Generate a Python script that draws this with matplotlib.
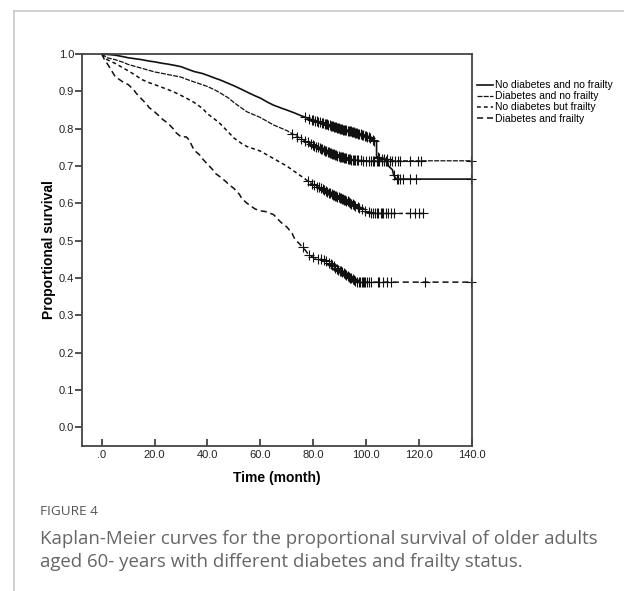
import numpy as np
import matplotlib.pyplot as plt
from matplotlib.lines import Line2D

# Kaplan-Meier curves (time in months, survival)
t1 = [0, 2, 5, 8, 10, 13, 15, 18, 20, 23, 25, 28, 30, 33, 35, 38, 40, 43, 45, 48, 50, 53, 55, 58, 60, 63, 65,
      68, 70, 73, 75, 78, 80, 83, 85, 88, 90, 93, 95, 98, 100, 101.5, 102.5, 104, 104, 106, 108, 108.5, 110,
      110.5, 111.5]
s1 = [1.0, 0.999, 0.997, 0.993, 0.99, 0.987, 0.985, 0.981, 0.979, 0.975, 0.973, 0.969, 0.966, 0.958, 0.953,
      0.948, 0.943, 0.935, 0.93, 0.921, 0.915, 0.905, 0.898, 0.888, 0.882, 0.87, 0.863, 0.855, 0.85, 0.842,
      0.836, 0.828, 0.823, 0.817, 0.812, 0.805, 0.80, 0.795, 0.791, 0.785, 0.78, 0.775, 0.77, 0.765, 0.725,
      0.72, 0.718, 0.70, 0.69, 0.675, 0.665]
t2 = [0, 2, 5, 8, 10, 13, 15, 18, 20, 23, 25, 28, 30, 33, 35, 38, 40, 43, 45, 48, 50, 53, 55, 58, 60, 63, 65,
      68, 70, 73, 75, 78, 80, 83, 85, 88, 90, 93, 95, 98, 100]
s2 = [1.0, 0.99, 0.985, 0.978, 0.972, 0.966, 0.962, 0.956, 0.952, 0.948, 0.945, 0.941, 0.938, 0.93, 0.925,
      0.918, 0.913, 0.903, 0.895, 0.882, 0.87, 0.855, 0.845, 0.836, 0.83, 0.818, 0.81, 0.801, 0.795, 0.783,
      0.775, 0.763, 0.756, 0.746, 0.74, 0.731, 0.725, 0.72, 0.716, 0.715, 0.714]
t3 = [0, 1, 2, 5, 8, 10, 13, 15, 18, 20, 23, 25, 28, 30, 33, 35, 38, 40, 43, 45, 48, 50, 53, 55, 58, 60, 63,
      65, 68, 70, 73, 75, 78, 80, 83, 85, 88, 90, 93, 95, 97, 98, 100, 103]
s3 = [1.0, 0.99, 0.985, 0.975, 0.963, 0.955, 0.942, 0.932, 0.923, 0.918, 0.91, 0.905, 0.896, 0.889, 0.878,
      0.87, 0.855, 0.84, 0.824, 0.812, 0.79, 0.775, 0.76, 0.752, 0.745, 0.74, 0.728, 0.72, 0.708, 0.70, 0.685,
      0.675, 0.66, 0.65, 0.64, 0.632, 0.622, 0.615, 0.605, 0.597, 0.59, 0.587, 0.578, 0.573]
t4 = [0, 1, 2, 4, 5, 7, 8, 10, 12, 13, 15, 17, 18, 20, 22, 23, 25, 27, 28, 30, 32, 33, 35, 37, 38, 40, 42, 43,
      45, 47, 48, 50, 52, 53, 55, 57, 58, 60, 62, 63, 65, 67, 68, 70, 72, 73, 75, 77, 78, 80, 82, 83, 85, 87,
      88, 90, 92, 93, 95, 96, 97]
s4 = [1.0, 0.985, 0.975, 0.952, 0.94, 0.93, 0.925, 0.918, 0.905, 0.895, 0.88, 0.865, 0.856, 0.845, 0.832,
      0.825, 0.815, 0.8, 0.79, 0.778, 0.778, 0.77, 0.742, 0.73, 0.72, 0.705, 0.69, 0.68, 0.67, 0.658, 0.651,
      0.64, 0.625, 0.613, 0.6, 0.59, 0.585, 0.58, 0.578, 0.575, 0.57, 0.555, 0.548, 0.537, 0.52, 0.505, 0.49,
      0.475, 0.465, 0.455, 0.452, 0.45, 0.445, 0.435, 0.43, 0.42, 0.41, 0.405, 0.397, 0.392, 0.389]
end_times = [140, 140, 123, 140]

# censored observations (+ marks)
c1 = [77, 78.5, 79.5, 80, 80.8, 81.5, 82, 82.6, 83.2, 83.8, 84.3, 84.8, 85.3, 85.8, 86.2, 86.6, 87, 87.4, 87.8,
      88.2, 88.6, 89, 89.4, 89.8, 90.2, 90.6, 91, 91.4, 91.8, 92.2, 92.6, 93, 93.4, 93.8, 94.2, 94.6, 95, 95.4,
      95.8, 96.2, 96.6, 97, 97.5, 98, 98.5, 99, 99.5, 100, 100.5, 101, 101.5, 102.5, 103, 104.5, 105, 106, 107,
      108, 110.5, 111.8, 112.3, 113, 114, 116.5, 119, 139.8]
c2 = [72, 74, 75.5, 77, 78, 79, 79.8, 80.5, 81.2, 81.8, 82.4, 83, 83.5, 84, 84.5, 85, 85.5, 86, 86.4, 86.8,
      87.2, 87.6, 88, 88.4, 88.8, 89.2, 89.6, 90, 90.4, 90.8, 91.2, 91.6, 92, 92.5, 93, 93.5, 94, 94.5, 95,
      95.5, 96, 96.5, 97, 98, 99, 100, 101, 102, 102.5, 103, 104, 104.5, 105, 106, 107, 107.5, 108, 109, 110,
      111, 112, 113, 116.5, 119.5, 121, 139.8]
c3 = [78, 79.5, 80.5, 81.5, 82.2, 83, 83.6, 84.2, 84.8, 85.4, 86, 86.5, 87, 87.5, 88, 88.4, 88.8, 89.2, 89.6,
      90, 90.4, 90.8, 91.2, 91.6, 92, 92.5, 93, 93.5, 94, 94.5, 95, 95.5, 96, 97, 97.5, 98.5, 99.5, 101, 102,
      102.8, 103.5, 104, 104.5, 105.5, 106, 106.5, 107.5, 108.5, 109.5, 110.5, 116.5, 118.5, 120, 121.5]
c4 = [76, 78.5, 80, 82, 83, 84, 85, 86, 86.6, 87.2, 87.8, 88.4, 89, 89.5, 90, 90.5, 91, 91.5, 92, 92.5, 93,
      93.5, 94, 94.5, 95, 95.5, 96, 96.5, 97.3, 97.8, 98.3, 98.8, 99.3, 99.8, 100.5, 101, 102, 104.5, 105,
      106.5, 108, 109.5, 122.5, 139.8]

labels = ['No diabetes and no frailty', 'Diabetes and no frailty',
          'No diabetes but frailty', 'Diabetes and frailty']
x_ticks = [0, 20, 40, 60, 80, 100, 120, 140]
x_ticklabels = ['.0', '20.0', '40.0', '60.0', '80.0', '100.0', '120.0', '140.0']
y_ticks = [0.0, 0.1, 0.2, 0.3, 0.4, 0.5, 0.6, 0.7, 0.8, 0.9, 1.0]

plt.rcParams['font.family'] = ['Liberation Sans', 'DejaVu Sans']

fig = plt.figure(figsize=(6.24, 5.91), dpi=100)
ax = fig.add_axes([0.1314, 0.2453, 0.6245, 0.6633])

styles = [dict(ls='-', lw=1.2), dict(ls=(0, (4, 1)), lw=0.9),
          dict(ls=(0, (2.5, 2)), lw=1.1), dict(ls=(0, (4, 2.5)), lw=1.1)]

handles = []
for t, s, c, end, st, lab in zip([t1, t2, t3, t4], [s1, s2, s3, s4], [c1, c2, c3, c4],
                                 end_times, styles, labels):
    tt = np.array(t + [end])
    ss = np.array(s + [s[-1]])
    h, = ax.plot(tt, ss, color='#111111', label=lab, clip_on=False, **st)
    handles.append(h)
    ax.plot(c, np.interp(c, tt, ss), '+', color='#111111', ms=6.5, mew=0.8, clip_on=False)

ax.set_xlim(-7.5, 140)
ax.set_ylim(-0.05, 1.0)
ax.set_xticks(x_ticks)
ax.set_xticklabels(x_ticklabels)
ax.set_yticks(y_ticks)
ax.set_yticklabels(['%.1f' % v for v in y_ticks])
ax.tick_params(axis='x', direction='in', length=5, width=1.2, color='#333333', labelsize=8, pad=3,
               labelcolor='#222222')
ax.tick_params(axis='y', direction='out', length=5, width=1.2, color='#333333', labelsize=8, pad=0.5,
               labelcolor='#222222')
for sp in ax.spines.values():
    sp.set_color('#444444')
    sp.set_linewidth(1.3)

ax.set_xlabel('Time (month)', fontsize=10, fontweight='bold', labelpad=8)
ax.set_ylabel('Proportional survival', fontsize=10, fontweight='bold', labelpad=2)

fig.legend(handles=handles, labels=labels, loc='upper left', bbox_to_anchor=(0.757, 0.871),
           frameon=False, fontsize=7.5, handlelength=1.6, handletextpad=0.2, labelspacing=0.1,
           borderaxespad=0)

# outer page frame
fig.add_artist(Line2D([14 / 624, 1.0], [1 - 11 / 591, 1 - 11 / 591], color='#c8c8c8', lw=1.2))
fig.add_artist(Line2D([14 / 624, 14 / 624], [0, 1 - 11 / 591], color='#c8c8c8', lw=1.2))

fig.text(40 / 624, 1 - 515 / 591, 'FIGURE 4', fontsize=9.7, color='#555555', family='Open Sans')
fig.text(40 / 624, 1 - 544 / 591, 'Kaplan-Meier curves for the proportional survival of older adults',
         fontsize=13.4, color='#666666', family='Open Sans')
fig.text(40 / 624, 1 - 567 / 591, 'aged 60- years with different diabetes and frailty status.',
         fontsize=13.4, color='#666666', family='Open Sans')

plt.savefig('out.png', dpi=100)
